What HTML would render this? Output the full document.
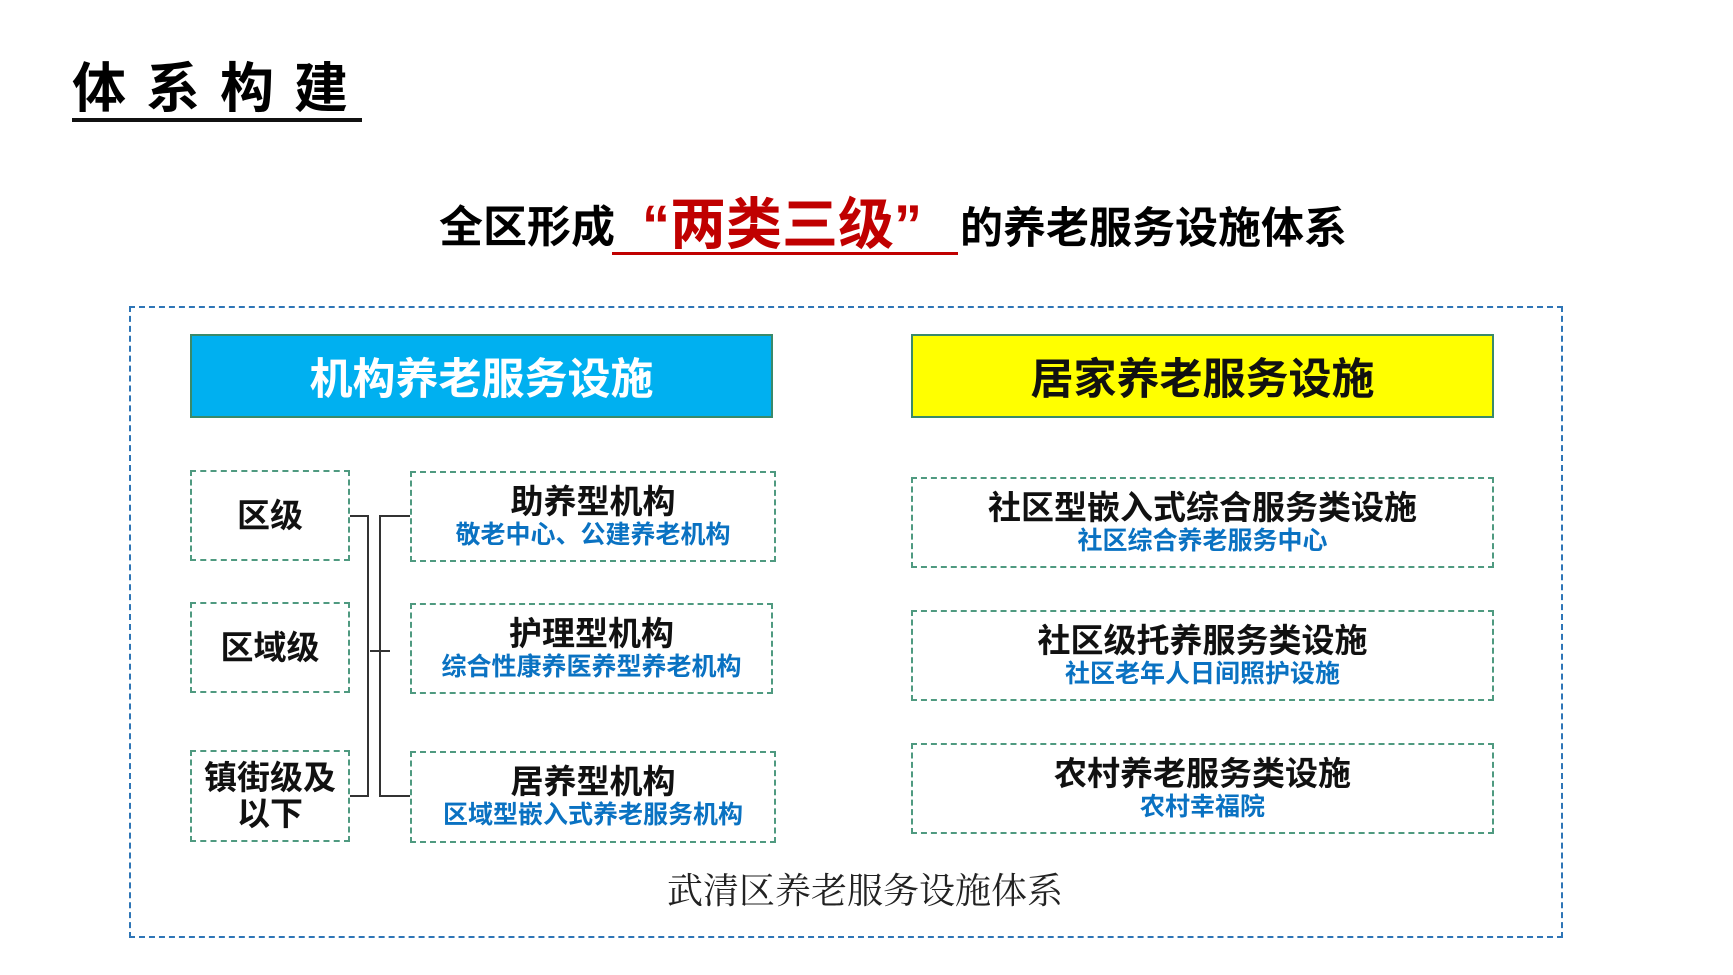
<!DOCTYPE html>
<html><head><meta charset="utf-8"><style>
body{margin:0;width:1733px;height:975px;background:#fff;position:relative;overflow:hidden;font-family:"Liberation Sans","Noto Sans CJK SC",sans-serif;}
.a{position:absolute;box-sizing:border-box;}
.t{font-weight:bold;}
.gb{border:2px dashed #4f9a80;display:flex;flex-direction:column;align-items:center;justify-content:center;text-align:center;}
.h{font-size:33px;font-weight:bold;color:#111;line-height:36px;}
.s{font-size:25px;font-weight:bold;color:#0a72c2;line-height:30px;}
.l{position:absolute;background:#333;}
</style></head><body>
<div class="a t" style="left:72px;top:56px;font-size:54px;letter-spacing:20px;line-height:66px;">体系构建</div>
<div class="a" style="left:72px;top:118px;width:290px;height:4px;background:#111;"></div>

<div class="a t" style="left:439px;top:200px;font-size:44px;line-height:56px;white-space:nowrap;">全区形成</div>
<div class="a t" style="left:642px;top:192px;font-size:56px;line-height:66px;color:#c00000;white-space:nowrap;">“两类三级”</div>
<div class="a" style="left:612px;top:252px;width:346px;height:3px;background:#c00000;"></div>
<div class="a t" style="left:960px;top:201px;font-size:43px;line-height:56px;white-space:nowrap;">的养老服务设施体系</div>

<div class="a" style="left:129px;top:306px;width:1434px;height:632px;border:2px dashed #2e75b6;"></div>

<div class="a t" style="left:190px;top:334px;width:583px;height:84px;background:#00b0f0;border:2px solid #3a8a6a;color:#fff;font-size:43px;display:flex;align-items:center;justify-content:center;">机构养老服务设施</div>
<div class="a t" style="left:911px;top:334px;width:583px;height:84px;background:#ffff00;border:2px solid #3a8a6a;color:#111;font-size:43px;display:flex;align-items:center;justify-content:center;">居家养老服务设施</div>

<div class="a gb" style="left:190px;top:470px;width:160px;height:91px;"><div class="h">区级</div></div>
<div class="a gb" style="left:190px;top:602px;width:160px;height:91px;"><div class="h">区域级</div></div>
<div class="a gb" style="left:190px;top:750px;width:160px;height:92px;"><div class="h">镇街级及<br>以下</div></div>

<div class="a gb" style="left:410px;top:471px;width:366px;height:91px;"><div class="h">助养型机构</div><div class="s">敬老中心、公建养老机构</div></div>
<div class="a gb" style="left:410px;top:603px;width:363px;height:91px;"><div class="h">护理型机构</div><div class="s">综合性康养医养型养老机构</div></div>
<div class="a gb" style="left:410px;top:751px;width:366px;height:92px;"><div class="h">居养型机构</div><div class="s">区域型嵌入式养老服务机构</div></div>

<div class="l" style="left:350px;top:515px;width:18px;height:2px;"></div>
<div class="l" style="left:367px;top:515px;width:2px;height:282px;"></div>
<div class="l" style="left:350px;top:795px;width:18px;height:2px;"></div>
<div class="l" style="left:379px;top:515px;width:2px;height:282px;"></div>
<div class="l" style="left:379px;top:515px;width:31px;height:2px;"></div>
<div class="l" style="left:379px;top:795px;width:31px;height:2px;"></div>
<div class="l" style="left:370px;top:650px;width:20px;height:2px;"></div>

<div class="a gb" style="left:911px;top:477px;width:583px;height:91px;"><div class="h">社区型嵌入式综合服务类设施</div><div class="s">社区综合养老服务中心</div></div>
<div class="a gb" style="left:911px;top:610px;width:583px;height:91px;"><div class="h">社区级托养服务类设施</div><div class="s">社区老年人日间照护设施</div></div>
<div class="a gb" style="left:911px;top:743px;width:583px;height:91px;"><div class="h">农村养老服务类设施</div><div class="s">农村幸福院</div></div>

<div class="a" style="left:565px;top:870px;width:600px;text-align:center;font-family:'Liberation Serif','Noto Serif CJK SC',serif;font-size:36px;line-height:42px;color:#222;">武清区养老服务设施体系</div>
</body></html>
